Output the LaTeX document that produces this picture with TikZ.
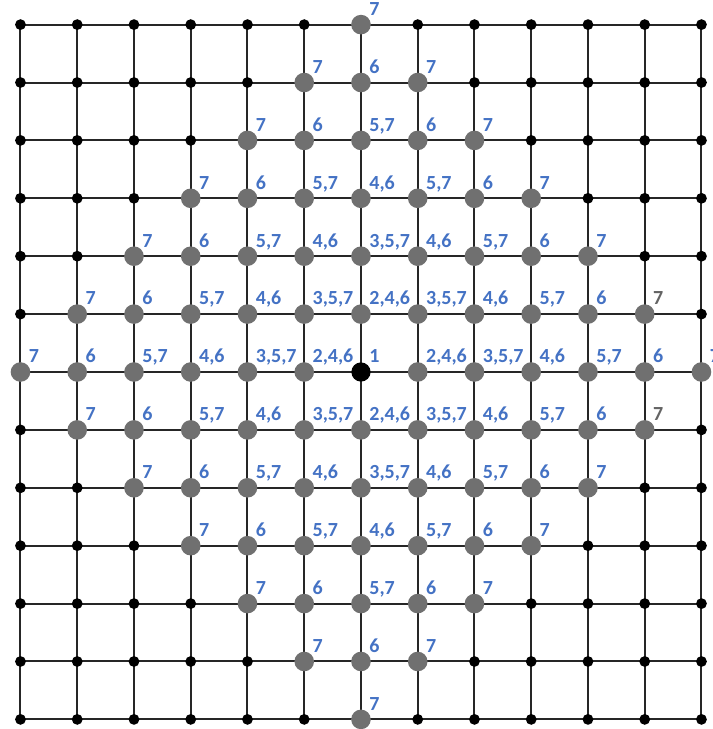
\documentclass[tikz,border=0pt]{standalone}
\usepackage{fontspec}
\setmainfont{Carlito}
\definecolor{lblblue}{RGB}{68,114,196}
\definecolor{lblgray}{RGB}{100,100,100}
\definecolor{hitgray}{RGB}{112,112,112}
\begin{document}
\begin{tikzpicture}[x=28.375pt,y=28.95pt,
    edge/.style={line width=1pt,black!85},
    dot/.style={circle,fill=black,inner sep=0pt,minimum size=5.4pt},
    hit/.style={circle,fill=hitgray,inner sep=0pt,minimum size=9.8pt},
    start/.style={circle,fill=black,inner sep=0pt,minimum size=9.6pt},
    lbl/.style={anchor=base west,inner sep=0pt,font=\bfseries\fontsize{10}{12}\selectfont}]
    \useasboundingbox (-6.361,-6.166) rectangle (6.203,6.425);
    % grid points
    \foreach \c in {0,...,12}
        \foreach \r in {0,...,12}
            \coordinate (n-\c-\r) at (\c-6,\r-6);
    % grid lines
    \foreach \k in {0,...,12} {
        \draw[edge] (n-0-\k) -- (n-12-\k);
        \draw[edge] (n-\k-0) -- (n-\k-12);
    }
    % vertices and their steps
    \foreach \c in {0,...,12}
        \foreach \r in {0,...,12} {
            \pgfmathtruncatemacro\d{abs(\c-6)+abs(\r-6)}
            \pgfmathtruncatemacro\g{and(\c==11,abs(\r-6)==1)}
            \ifnum\g=1 \def\lc{lblgray}\else\def\lc{lblblue}\fi
            \ifnum\d=0
                \node[start] (m-\c-\r) at (n-\c-\r) {};
            \else\ifnum\d<7
                \node[hit] (m-\c-\r) at (n-\c-\r) {};
            \else
                \node[dot] (m-\c-\r) at (n-\c-\r) {};
            \fi\fi
            \ifnum\d<7
                \node[lbl,text=\lc] (t-\c-\r) at ([shift={(4pt,4.6pt)}]n-\c-\r)
                    {\ifcase\d\relax 1\or 2,4,6\or 3,5,7\or 4,6\or 5,7\or 6\or 7\fi};
            \fi
        }
\end{tikzpicture}
\end{document}
